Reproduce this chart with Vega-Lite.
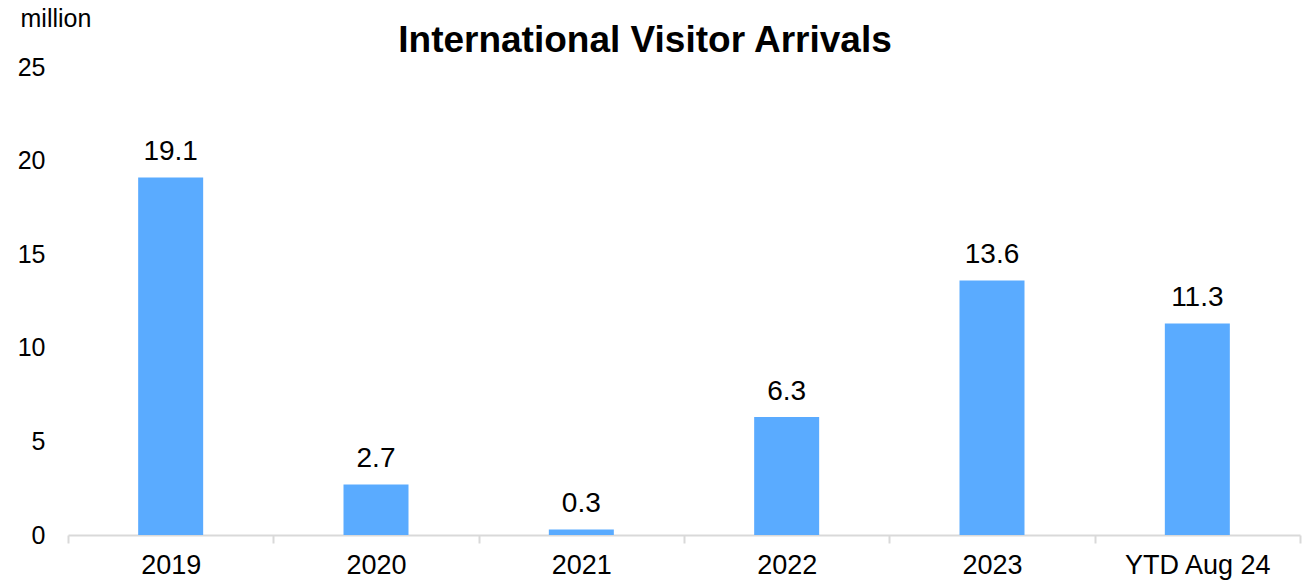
{
  "$schema": "https://vega.github.io/schema/vega-lite/v6.json",
  "width": 1232,
  "height": 468,
  "autosize": {"type": "none"},
  "padding": {"left": 68, "top": 67, "right": 10, "bottom": 49},
  "background": "white",
  "config": {
    "font": "Liberation Sans",
    "view": {"stroke": null}
  },
  "title": {
    "text": "International Visitor Arrivals",
    "fontSize": 37,
    "fontWeight": "bold",
    "font": "Liberation Sans",
    "color": "#000000",
    "anchor": "middle",
    "baseline": "alphabetic",
    "offset": -83,
    "dx": -39
  },
  "data": {
    "values": [
      {"period": "2019", "value": 19.1},
      {"period": "2020", "value": 2.7},
      {"period": "2021", "value": 0.3},
      {"period": "2022", "value": 6.3},
      {"period": "2023", "value": 13.6},
      {"period": "YTD Aug 24", "value": 11.3}
    ]
  },
  "encoding": {
    "x": {
      "field": "period",
      "type": "nominal",
      "sort": null,
      "scale": {"paddingInner": 0, "paddingOuter": 0},
      "axis": {
        "title": null,
        "labelAngle": 0,
        "labelFontSize": 27,
        "labelColor": "#000000",
        "labelPadding": 9,
        "domainColor": "#d9d9d9",
        "domainWidth": 2,
        "tickColor": "#d9d9d9",
        "tickWidth": 2,
        "tickSize": 8,
        "tickBand": "extent",
        "grid": false
      }
    },
    "y": {
      "field": "value",
      "type": "quantitative",
      "scale": {"domain": [0, 25], "nice": false},
      "axis": {
        "values": [0, 5, 10, 15, 20, 25],
        "title": "million",
        "titleAngle": 0,
        "titleX": -48,
        "titleY": -49,
        "titleAlign": "left",
        "titleBaseline": "middle",
        "titleFontSize": 25,
        "titleFontWeight": "normal",
        "titleColor": "#000000",
        "labelFontSize": 25,
        "labelColor": "#000000",
        "labelPadding": 23,
        "domain": false,
        "ticks": false,
        "grid": false
      }
    }
  },
  "layer": [
    {"mark": {"type": "bar", "size": 65, "color": "#5aabff"}},
    {
      "mark": {"type": "text", "fontSize": 28, "baseline": "alphabetic", "dy": -17, "color": "#000000"},
      "encoding": {"text": {"field": "value", "type": "quantitative", "format": ".1f"}}
    }
  ]
}
